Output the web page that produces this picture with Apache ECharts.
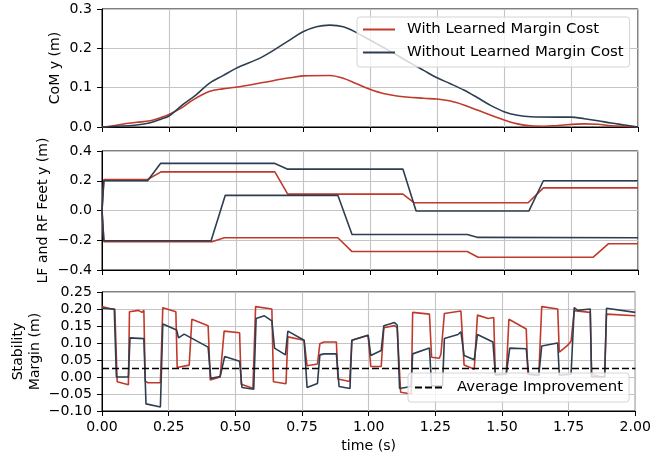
<!DOCTYPE html>
<html><head><meta charset="utf-8">
<script src="https://cdn.jsdelivr.net/npm/echarts@6/dist/echarts.min.js"></script>
<style>html,body{margin:0;padding:0;background:#fff}#c{width:654px;height:459px}</style>
</head><body><div id="c"></div>
<script>
const seriesNames = ['With Learned Margin Cost', 'Without Learned Margin Cost'];
const avgName = 'Average Improvement';
const xTickValues = [0, 0.25, 0.5, 0.75, 1.0, 1.25, 1.5, 1.75, 2.0];

// CoM y (m)
const comWith = [[0,0],[0.05,0.004],[0.09,0.009],[0.13,0.012],[0.18,0.016],[0.22,0.024],[0.25,0.032],[0.3,0.05],[0.34,0.069],[0.4,0.09],[0.45,0.097],[0.5,0.101],[0.6,0.113],[0.7,0.125],[0.75,0.13],[0.85,0.131],[0.9,0.124],[0.95,0.11],[1.0,0.096],[1.05,0.085],[1.1,0.079],[1.2,0.073],[1.25,0.071],[1.3,0.066],[1.35,0.056],[1.4,0.043],[1.5,0.018],[1.55,0.008],[1.6,0.003],[1.65,0.002],[1.7,0.004],[1.8,0.008],[1.85,0.007],[1.9,0.003],[2.0,0]];
const comWithout = [[0,0],[0.1,0.003],[0.15,0.007],[0.18,0.011],[0.22,0.02],[0.25,0.028],[0.3,0.056],[0.35,0.081],[0.4,0.111],[0.45,0.13],[0.5,0.149],[0.6,0.179],[0.7,0.221],[0.75,0.242],[0.8,0.255],[0.85,0.259],[0.9,0.255],[0.95,0.24],[1.0,0.221],[1.05,0.202],[1.1,0.183],[1.15,0.163],[1.2,0.144],[1.25,0.125],[1.3,0.11],[1.35,0.094],[1.4,0.075],[1.45,0.055],[1.5,0.039],[1.55,0.03],[1.6,0.026],[1.7,0.025],[1.75,0.025],[1.8,0.021],[1.85,0.016],[1.9,0.01],[1.95,0.005],[2.0,0]];

// LF and RF feet y (m)
const lfWith = [[0,0],[0.007,0.208],[0.17,0.208],[0.22,0.26],[0.645,0.26],[0.693,0.11],[1.123,0.11],[1.165,0.052],[1.59,0.052],[1.647,0.152],[2,0.152]];
const rfWith = [[0,0],[0.007,-0.21],[0.41,-0.21],[0.457,-0.183],[0.88,-0.183],[0.933,-0.276],[1.363,-0.276],[1.403,-0.314],[1.833,-0.314],[1.889,-0.224],[2,-0.224]];
const lfWithout = [[0,0],[0.007,0.2],[0.17,0.2],[0.219,0.317],[0.643,0.317],[0.693,0.278],[1.123,0.278],[1.172,-0.003],[1.593,-0.003],[1.647,0.2],[2,0.2]];
const rfWithout = [[0,0],[0.007,-0.203],[0.407,-0.203],[0.46,0.102],[0.88,0.102],[0.933,-0.161],[1.363,-0.161],[1.403,-0.181],[2,-0.183]];

// Stability margin (m)
const marginWith = [[0,0.207],[0.035,0.2],[0.048,0.199],[0.057,-0.014],[0.099,-0.023],[0.103,0.192],[0.137,0.196],[0.15,0.19],[0.157,0.196],[0.162,-0.011],[0.172,-0.017],[0.219,-0.017],[0.228,0.204],[0.277,0.192],[0.282,0.028],[0.327,0.035],[0.337,0.17],[0.398,0.151],[0.406,-0.009],[0.443,0.0],[0.458,0.135],[0.516,0.13],[0.522,-0.021],[0.566,-0.033],[0.576,0.207],[0.637,0.2],[0.643,-0.014],[0.69,-0.02],[0.697,0.118],[0.758,0.108],[0.769,0.033],[0.808,0.038],[0.817,0.098],[0.833,0.103],[0.879,0.103],[0.885,-0.006],[0.929,-0.013],[0.937,0.108],[0.998,0.123],[1.008,0.031],[1.047,0.031],[1.057,0.145],[1.097,0.151],[1.107,0.145],[1.12,-0.045],[1.16,-0.05],[1.165,0.19],[1.228,0.185],[1.236,0.058],[1.265,0.055],[1.271,0.067],[1.284,0.187],[1.346,0.194],[1.358,0.035],[1.396,0.023],[1.408,0.182],[1.448,0.172],[1.455,0.177],[1.469,0.175],[1.475,0.005],[1.516,0.008],[1.526,0.17],[1.591,0.141],[1.597,0.008],[1.638,0.005],[1.649,0.207],[1.709,0.2],[1.715,0.073],[1.746,0.093],[1.759,0.105],[1.771,0.195],[1.831,0.19],[1.836,0.008],[1.864,0.002],[1.885,0.0],[1.892,0.185],[2.0,0.18]];
const marginWithout = [[0,0.202],[0.046,0.2],[0.054,0.0],[0.099,0.0],[0.105,0.115],[0.157,0.113],[0.165,-0.079],[0.219,-0.088],[0.228,0.156],[0.28,0.138],[0.287,0.115],[0.308,0.126],[0.398,0.088],[0.408,-0.004],[0.443,0.0015],[0.46,0.06],[0.516,0.046],[0.525,-0.031],[0.569,-0.036],[0.578,0.172],[0.609,0.18],[0.637,0.165],[0.647,0.085],[0.688,0.065],[0.697,0.135],[0.758,0.108],[0.769,-0.031],[0.808,-0.019],[0.817,0.065],[0.833,0.068],[0.879,0.068],[0.889,-0.028],[0.93,-0.034],[0.937,0.108],[0.998,0.123],[1.008,0.063],[1.047,0.078],[1.057,0.151],[1.097,0.16],[1.107,0.153],[1.116,-0.034],[1.159,-0.028],[1.165,0.068],[1.228,0.085],[1.236,-0.026],[1.277,-0.026],[1.284,0.113],[1.335,0.125],[1.346,0.133],[1.352,0.133],[1.358,0.063],[1.396,0.051],[1.408,0.125],[1.466,0.103],[1.475,0.008],[1.516,0.008],[1.529,0.085],[1.591,0.083],[1.6,0.008],[1.638,0.005],[1.649,0.091],[1.709,0.1],[1.715,0.005],[1.759,0.008],[1.771,0.204],[1.784,0.196],[1.831,0.2],[1.836,0.001],[1.885,0.0],[1.892,0.202],[2.0,0.19]];
const avgImprovement = 0.025;

const RED = '#c0392b', DARK = '#2c3e50';
const FONT = 'DejaVu Sans', FS = 14.1, LFS = 14.9;
const minus = s => s.replace('-', '\u2212');

const chart = echarts.init(document.getElementById('c'), null, {renderer: 'canvas'});
const grids = [
  {left: 102, top: 9, width: 536, height: 118},
  {left: 102, top: 151, width: 536, height: 119},
  {left: 102, top: 292, width: 536, height: 119}
].map(g => Object.assign(g, {show: true, borderColor: '#000', borderWidth: 1, containLabel: false, backgroundColor: 'transparent'}));

function xAxis(i, showLabel) {
  return {
    type: 'value', gridIndex: i, min: 0, max: 2, interval: 0.25,
    axisLine: {show: true, onZero: false, lineStyle: {color: '#000', width: 1}},
    axisTick: {show: true, length: 5, lineStyle: {color: '#000'}},
    axisLabel: {show: showLabel, margin: 9, color: '#000', fontFamily: FONT, fontSize: FS, formatter: v => v.toFixed(2)},
    splitLine: {show: true, lineStyle: {color: '#c4c4c4', width: 1.1}},
    name: showLabel ? 'time (s)' : '', nameLocation: 'middle', nameGap: 28, nameMoveOverlap: false,
    nameTextStyle: {color: '#000', fontFamily: FONT, fontSize: FS}
  };
}
function yAxis(i, min, max, interval, dec, name, gap) {
  return {
    type: 'value', gridIndex: i, min: min, max: max, interval: interval,
    axisLine: {show: true, onZero: false, lineStyle: {color: '#000', width: 1}},
    axisTick: {show: true, length: 5, lineStyle: {color: '#000'}},
    axisLabel: {margin: 10, color: '#000', fontFamily: FONT, fontSize: FS, formatter: v => minus(v.toFixed(dec))},
    splitLine: {show: true, lineStyle: {color: '#c4c4c4', width: 1.1}},
    name: name, nameLocation: 'middle', nameRotate: 90, nameGap: gap, nameMoveOverlap: false,
    nameTextStyle: {color: '#000', fontFamily: FONT, fontSize: FS, lineHeight: 17}
  };
}
function line(name, data, color, xi, smooth) {
  return {type: 'line', name: name, data: data, xAxisIndex: xi, yAxisIndex: xi,
    showSymbol: false, symbol: 'none', smooth: smooth || false,
    lineStyle: {color: color, width: 1.6}, itemStyle: {color: color}, animation: false};
}

const legendBase = {
  orient: 'vertical', backgroundColor: 'rgba(255,255,255,0.8)', borderColor: '#d4d4d4', borderWidth: 1,
  borderRadius: 3, itemWidth: 32, itemHeight: 14, itemGap: 8, selectedMode: false,
  itemStyle: {opacity: 0},
  textStyle: {color: '#000', fontFamily: FONT, fontSize: LFS, lineHeight: 14, padding: [0, 0, 0, 7]}
};

chart.setOption({
  animation: false,
  backgroundColor: '#fff',
  grid: grids,
  xAxis: [xAxis(0, false), xAxis(1, false), xAxis(2, true)],
  yAxis: [
    yAxis(0, 0, 0.3, 0.1, 1, 'CoM y (m)', 38),
    yAxis(1, -0.4, 0.4, 0.2, 1, 'LF and RF Feet y (m)', 50),
    yAxis(2, -0.1, 0.25, 0.05, 2, 'Stability\nMargin (m)', 58)
  ],
  legend: [
    Object.assign({}, legendBase, {data: seriesNames, left: 357, top: 17, padding: [5, 6, 7, 5]}),
    Object.assign({}, legendBase, {data: [avgName], left: 408, top: 373, itemWidth: 30, padding: [7, 6, 7, 6]})
  ],
  series: [
    line(seriesNames[0], comWith, RED, 0, 0.35),
    line(seriesNames[1], comWithout, DARK, 0, 0.35),
    line(seriesNames[0], lfWith, RED, 1),
    line(seriesNames[0], rfWith, RED, 1),
    line(seriesNames[1], lfWithout, DARK, 1),
    line(seriesNames[1], rfWithout, DARK, 1),
    line(seriesNames[0], marginWith, RED, 2),
    line(seriesNames[1], marginWithout, DARK, 2),
    Object.assign(line(avgName, [[0, avgImprovement], [2, avgImprovement]], '#000', 2),
      {lineStyle: {color: '#000', width: 1.5, type: [7, 3]}})
  ]
});
</script></body></html>
